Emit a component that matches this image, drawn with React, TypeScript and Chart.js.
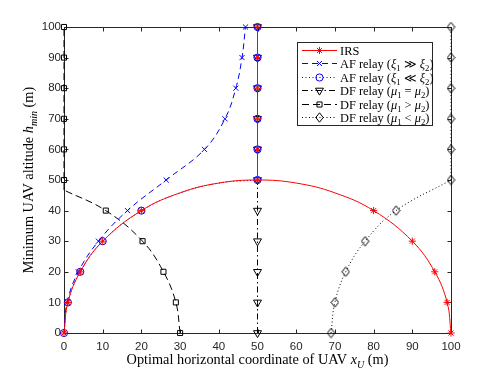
import React, { useEffect, useRef } from "react";
import { Chart, registerables } from "chart.js";
Chart.register(...registerables);

// ---------- data ----------
const axisTicks = [0, 10, 20, 30, 40, 50, 60, 70, 80, 90, 100];
const altitudes = [0, 10, 20, 30, 40, 50, 60, 70, 80, 90, 100];

// IRS: optimal x for each altitude (markers)
const irsLeftX = [0, 1.0, 4.2, 10, 20, 50, 50, 50, 50, 50, 50];
const irsRightX = [100, 99, 95.8, 90, 80];
const irsRightH = [0, 10, 20, 30, 40];
// IRS curve path (markers plus points read between them)
const irsArcX = [0, 1.0, 4.2, 10, 20, 30, 40, 50, 60, 70, 80, 90, 95.8, 99, 100];
const irsArcH = [0, 10, 20, 30, 40, 45.8, 49, 50, 49, 45.8, 40, 30, 20, 10, 0];

// AF relay
const afStrongX = [0, 0.8, 3.7, 8.9, 16.4, 26.4, 36.3, 41.6, 44.4, 46.0, 46.9];
const afWeakX = [0, 1.0, 4.2, 10, 20, 50, 50, 50, 50, 50, 50];

// DF relay
const dfEqualX = [50, 50, 50, 50, 50, 50, 50, 50, 50, 50, 50];
const dfGreaterX = [30, 28.9, 25.7, 20.3, 10.8, 0, 0, 0, 0, 0, 0];
const dfLessX = [69, 70, 72.8, 77.8, 85.8, 100, 100, 100, 100, 100, 100];
// altitude where DF curves reach the plot edge
const dfGreaterEdgeH = 46.7;
const dfLessEdgeH = 50;

const legendLabels = [
  [{ t: "IRS" }],
  [{ t: "AF relay (" }, { t: "ξ", it: true }, { t: "1", sub: true }, { t: " ≫ " }, { t: "ξ", it: true }, { t: "2", sub: true }, { t: ")" }],
  [{ t: "AF relay (" }, { t: "ξ", it: true }, { t: "1", sub: true }, { t: " ≪ " }, { t: "ξ", it: true }, { t: "2", sub: true }, { t: ")" }],
  [{ t: "DF relay (" }, { t: "μ", it: true }, { t: "1", sub: true }, { t: " = " }, { t: "μ", it: true }, { t: "2", sub: true }, { t: ")" }],
  [{ t: "DF relay (" }, { t: "μ", it: true }, { t: "1", sub: true }, { t: " > " }, { t: "μ", it: true }, { t: "2", sub: true }, { t: ")" }],
  [{ t: "DF relay (" }, { t: "μ", it: true }, { t: "1", sub: true }, { t: " < " }, { t: "μ", it: true }, { t: "2", sub: true }, { t: ")" }],
];
const xTitle = [{ t: "Optimal horizontal coordinate of UAV " }, { t: "x", it: true }, { t: "U", it: true, sub: true }, { t: " (m)" }];
const yTitle = [{ t: "Minimum UAV altitude " }, { t: "h", it: true }, { t: "min", it: true, sub: true }, { t: " (m)" }];

// ---------- styles ----------
const SERIF = "'Liberation Serif', serif";
const SANS = "'Liberation Sans', Arial, sans-serif";
const AXIS = "#262626";

type Run = { t: string; it?: boolean; sub?: boolean };

function makeDiamond(color: string) {
  const c = document.createElement("canvas");
  c.width = 9;
  c.height = 11;
  const g = c.getContext("2d")!;
  g.strokeStyle = color;
  g.lineWidth = 1;
  g.beginPath();
  g.moveTo(4.5, 0.8);
  g.lineTo(8.2, 5.5);
  g.lineTo(4.5, 10.2);
  g.lineTo(0.8, 5.5);
  g.closePath();
  g.stroke();
  return c;
}

type Style = { color: string; dash: number[]; marker: any; r: number; rot: number };

function pts(xs: number[], ys: number[]) {
  return xs.map((x, i) => ({ x, y: ys[i] }));
}

function fontFor(run: Run, size: number) {
  const s = run.sub ? size * 0.7 : size;
  return `${run.it ? "italic " : ""}${s}px ${SERIF}`;
}
function richWidth(ctx: CanvasRenderingContext2D, runs: Run[], size: number) {
  let w = 0;
  for (const r of runs) {
    ctx.font = fontFor(r, size);
    w += ctx.measureText(r.t).width;
  }
  return w;
}
function drawRich(ctx: CanvasRenderingContext2D, runs: Run[], x: number, y: number, size: number, align: string) {
  const w = richWidth(ctx, runs, size);
  let cx = align === "center" ? x - w / 2 : x;
  ctx.textBaseline = "alphabetic";
  ctx.textAlign = "left";
  for (const r of runs) {
    ctx.font = fontFor(r, size);
    ctx.fillText(r.t, cx, r.sub ? y + size * 0.28 : y);
    cx += ctx.measureText(r.t).width;
  }
}

function drawMarker(ctx: CanvasRenderingContext2D, st: Style, x: number, y: number) {
  const r = st.r;
  ctx.save();
  ctx.strokeStyle = st.color;
  ctx.lineWidth = 1;
  ctx.setLineDash([]);
  ctx.beginPath();
  if (typeof st.marker !== "string") {
    ctx.drawImage(st.marker, x - st.marker.width / 2, y - st.marker.height / 2);
  } else if (st.marker === "star") {
    for (let k = 0; k < 4; k++) {
      const a = (k * Math.PI) / 4;
      ctx.moveTo(x - Math.cos(a) * r, y - Math.sin(a) * r);
      ctx.lineTo(x + Math.cos(a) * r, y + Math.sin(a) * r);
    }
    ctx.stroke();
  } else if (st.marker === "crossRot") {
    for (const a of [Math.PI / 4, (3 * Math.PI) / 4]) {
      ctx.moveTo(x - Math.cos(a) * r, y - Math.sin(a) * r);
      ctx.lineTo(x + Math.cos(a) * r, y + Math.sin(a) * r);
    }
    ctx.stroke();
  } else if (st.marker === "circle") {
    ctx.arc(x, y, r, 0, Math.PI * 2);
    ctx.stroke();
  } else if (st.marker === "triangle") {
    let rad = (st.rot * Math.PI) / 180;
    ctx.moveTo(x + Math.sin(rad) * r, y - Math.cos(rad) * r);
    rad += (2 * Math.PI) / 3;
    ctx.lineTo(x + Math.sin(rad) * r, y - Math.cos(rad) * r);
    rad += (2 * Math.PI) / 3;
    ctx.lineTo(x + Math.sin(rad) * r, y - Math.cos(rad) * r);
    ctx.closePath();
    ctx.stroke();
  } else if (st.marker === "rect") {
    const s = r * Math.SQRT1_2;
    ctx.rect(x - s, y - s, 2 * s, 2 * s);
    ctx.stroke();
  }
  ctx.restore();
}

export default function App() {
  const ref = useRef<HTMLCanvasElement | null>(null);

  useEffect(() => {
    const canvas = ref.current!;
    const diamond = makeDiamond("#000000");
    const styles: Style[] = [
      { color: "#ff0000", dash: [], marker: "star", r: 3.6, rot: 0 },
      { color: "#0000ff", dash: [6, 4], marker: "crossRot", r: 3.6, rot: 0 },
      { color: "#0000ff", dash: [1, 2.5], marker: "circle", r: 3.6, rot: 0 },
      { color: "#000000", dash: [6, 3, 1.5, 3], marker: "triangle", r: 4.6, rot: 180 },
      { color: "#000000", dash: [7, 4], marker: "rect", r: 3.6, rot: 0 },
      { color: "#000000", dash: [1, 2.5], marker: diamond, r: 4, rot: 0 },
    ];

    const lineDs = (data: any[], st: Style, tension: number) => ({
      data,
      showLine: true,
      borderColor: st.color,
      borderWidth: 1,
      borderDash: st.dash,
      pointRadius: 0,
      pointHoverRadius: 0,
      tension,
      fill: false,
      clip: false,
    });
    const markDs = (data: any[], st: Style) => ({
      data,
      showLine: false,
      pointStyle: st.marker,
      pointRadius: st.r,
      pointRotation: st.rot,
      pointBorderColor: st.color,
      pointBackgroundColor: "rgba(0,0,0,0)",
      pointBorderWidth: 1,
      clip: false,
    });

    const [sIrs, sAfS, sAfW, sDfE, sDfG, sDfL] = styles;
    const datasets: any[] = [
      // IRS (drawn on top: first)
      lineDs(pts(irsArcX, irsArcH), sIrs, 0.4),
      lineDs([{ x: 50, y: 50 }, { x: 50, y: 100 }], sIrs, 0),
      markDs(pts(irsLeftX, altitudes).concat(pts(irsRightX, irsRightH)), sIrs),
      // AF strong
      lineDs(pts(afStrongX, altitudes), sAfS, 0.4),
      markDs(pts(afStrongX, altitudes), sAfS),
      // AF weak
      lineDs(pts(irsArcX.slice(0, 8), irsArcH.slice(0, 8)), sAfW, 0.4),
      lineDs([{ x: 50, y: 50 }, { x: 50, y: 100 }], sAfW, 0),
      markDs(pts(afWeakX, altitudes), sAfW),
      // DF equal
      lineDs(pts(dfEqualX, altitudes), sDfE, 0),
      markDs(pts(dfEqualX, altitudes), sDfE),
      // DF greater
      lineDs(pts(dfGreaterX.slice(0, 5).concat([0]), altitudes.slice(0, 5).concat([dfGreaterEdgeH])), sDfG, 0.4),
      lineDs([{ x: 0, y: dfGreaterEdgeH }, { x: 0, y: 100 }], sDfG, 0),
      markDs(pts(dfGreaterX, altitudes), sDfG),
      // DF less
      lineDs(pts(dfLessX.slice(0, 5).concat([100]), altitudes.slice(0, 5).concat([dfLessEdgeH])), sDfL, 0.4),
      lineDs([{ x: 100, y: dfLessEdgeH }, { x: 100, y: 100 }], sDfL, 0),
      markDs(pts(dfLessX, altitudes), sDfL),
    ];

    const framePlugin = {
      id: "frame",
      beforeDatasetsDraw(chart: any) {
        const { ctx, chartArea: a, scales } = chart;
        ctx.save();
        ctx.strokeStyle = AXIS;
        ctx.lineWidth = 1;
        ctx.setLineDash([]);
        const L = Math.round(a.left) + 0.5, R = Math.round(a.right) + 0.5;
        const T = Math.round(a.top) + 0.5, B = Math.round(a.bottom) + 0.5;
        ctx.strokeRect(L, T, R - L, B - T);
        ctx.beginPath();
        for (const v of axisTicks) {
          const px = Math.round(scales.x.getPixelForValue(v)) + 0.5;
          ctx.moveTo(px, B); ctx.lineTo(px, B - 4);
          ctx.moveTo(px, T); ctx.lineTo(px, T + 4);
          const py = Math.round(scales.y.getPixelForValue(v)) + 0.5;
          ctx.moveTo(L, py); ctx.lineTo(L + 4, py);
          ctx.moveTo(R, py); ctx.lineTo(R - 4, py);
        }
        ctx.stroke();
        // axis titles
        ctx.fillStyle = "#000";
        drawRich(ctx, xTitle, (a.left + a.right) / 2, 363.5, 14.3, "center");
        ctx.save();
        ctx.translate(33, (a.top + a.bottom) / 2);
        ctx.rotate(-Math.PI / 2);
        drawRich(ctx, yTitle, 0, 0, 14.3, "center");
        ctx.restore();
        ctx.restore();
      },
      afterDraw(chart: any) {
        const { ctx } = chart;
        ctx.save();
        const bx = 297.5, by = 42.5, bw = 135, bh = 83;
        ctx.fillStyle = "#fff";
        ctx.fillRect(bx, by, bw, bh);
        ctx.strokeStyle = AXIS;
        ctx.lineWidth = 1;
        ctx.setLineDash([]);
        ctx.strokeRect(bx, by, bw, bh);
        styles.forEach((st, i) => {
          const yy = Math.round(50 + i * 13.45) + 0.5;
          ctx.strokeStyle = st.color;
          ctx.lineWidth = 1;
          ctx.setLineDash(st.dash);
          ctx.beginPath();
          ctx.moveTo(302, yy);
          ctx.lineTo(337, yy);
          ctx.stroke();
          drawMarker(ctx, st, 319.5, yy);
          ctx.fillStyle = "#000";
          drawRich(ctx, legendLabels[i] as Run[], 340, yy + 4, 12.4, "left");
        });
        ctx.restore();
      },
    };

    const tickFont = { family: SANS, size: 11.5 };
    const chart = new Chart(canvas, {
      type: "scatter",
      data: { datasets },
      options: {
        animation: false,
        responsive: false,
        devicePixelRatio: 1,
        events: [],
        layout: { padding: { left: 0, top: 27, right: 47, bottom: 0 } },
        plugins: { legend: { display: false }, tooltip: { enabled: false } },
        scales: {
          x: {
            type: "linear",
            min: 0,
            max: 100,
            afterFit: (s: any) => { s.height = 41; },
            afterBuildTicks: (s: any) => { s.ticks = axisTicks.map((v) => ({ value: v })); },
            ticks: { font: tickFont, color: AXIS, padding: 7, maxRotation: 0 },
            grid: { display: false, drawTicks: false },
            border: { display: false },
          },
          y: {
            type: "linear",
            min: 0,
            max: 100,
            afterFit: (s: any) => { s.width = 64; },
            afterBuildTicks: (s: any) => { s.ticks = axisTicks.map((v) => ({ value: v })); },
            ticks: { font: tickFont, color: AXIS, padding: 3 },
            grid: { display: false, drawTicks: false },
            border: { display: false },
          },
        },
      },
      plugins: [framePlugin],
    } as any);
    return () => chart.destroy();
  }, []);

  return (
    <div style={{ position: "absolute", left: 0, top: 0, width: 498, height: 374, background: "#fff" }}>
      <canvas ref={ref} width={498} height={374} style={{ display: "block" }} />
    </div>
  );
}
